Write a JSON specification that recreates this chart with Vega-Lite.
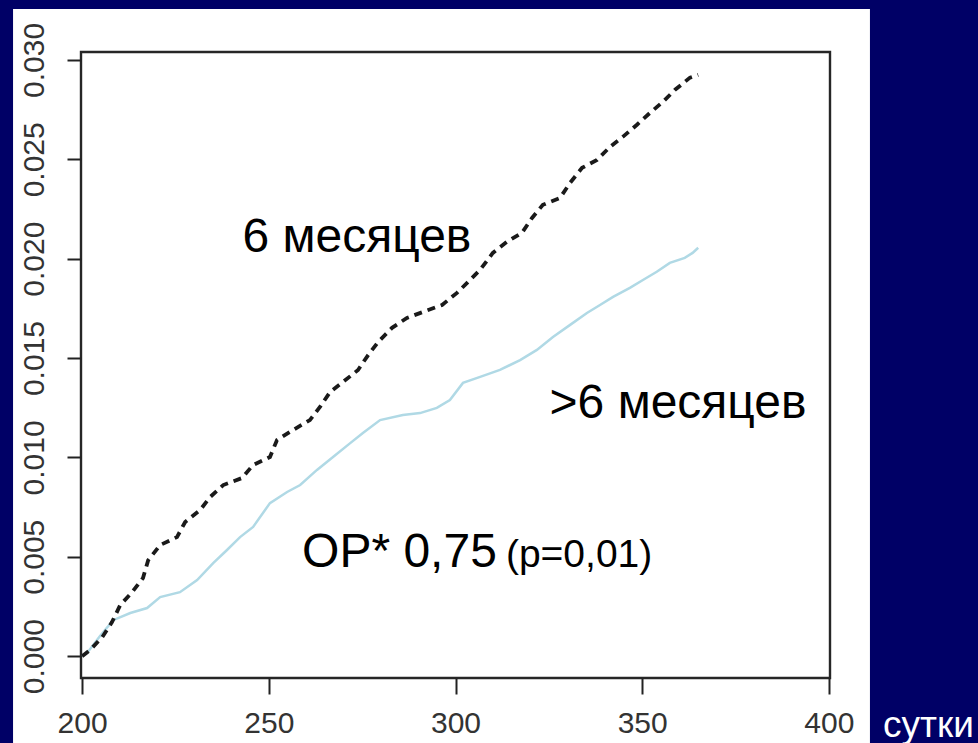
{
  "$schema": "https://vega.github.io/schema/vega-lite/v6.json",
  "width": 749,
  "height": 626,
  "autosize": {"type": "none"},
  "padding": {"left": 81, "top": 52, "right": 148, "bottom": 65},
  "background": "#000066",
  "config": {"view": {"stroke": null}, "font": "Liberation Sans"},
  "datasets": {
    "one": [{}],
    "curves": [
      {"day": 200.0, "risk": 0.0, "group": "6 месяцев"},
      {"day": 202.1, "risk": 0.0003, "group": "6 месяцев"},
      {"day": 205.4, "risk": 0.00096, "group": "6 месяцев"},
      {"day": 208.0, "risk": 0.00171, "group": "6 месяцев"},
      {"day": 210.2, "risk": 0.00257, "group": "6 месяцев"},
      {"day": 213.4, "risk": 0.00322, "group": "6 месяцев"},
      {"day": 216.3, "risk": 0.00393, "group": "6 месяцев"},
      {"day": 217.7, "risk": 0.00483, "group": "6 месяцев"},
      {"day": 220.9, "risk": 0.00559, "group": "6 месяцев"},
      {"day": 225.4, "risk": 0.00599, "group": "6 месяцев"},
      {"day": 227.6, "risk": 0.00675, "group": "6 месяцев"},
      {"day": 231.6, "risk": 0.00735, "group": "6 месяцев"},
      {"day": 234.3, "risk": 0.00801, "group": "6 месяцев"},
      {"day": 237.8, "risk": 0.00861, "group": "6 месяцев"},
      {"day": 242.8, "risk": 0.00896, "group": "6 месяцев"},
      {"day": 245.8, "risk": 0.00962, "group": "6 месяцев"},
      {"day": 250.3, "risk": 0.01002, "group": "6 месяцев"},
      {"day": 252.2, "risk": 0.01088, "group": "6 месяцев"},
      {"day": 256.5, "risk": 0.01138, "group": "6 месяцев"},
      {"day": 261.0, "risk": 0.01188, "group": "6 месяцев"},
      {"day": 263.7, "risk": 0.01254, "group": "6 месяцев"},
      {"day": 266.4, "risk": 0.01329, "group": "6 месяцев"},
      {"day": 269.9, "risk": 0.0138, "group": "6 месяцев"},
      {"day": 273.9, "risk": 0.0144, "group": "6 месяцев"},
      {"day": 276.6, "risk": 0.01515, "group": "6 месяцев"},
      {"day": 279.3, "risk": 0.01581, "group": "6 месяцев"},
      {"day": 283.0, "risk": 0.01652, "group": "6 месяцев"},
      {"day": 287.0, "risk": 0.01702, "group": "6 месяцев"},
      {"day": 291.3, "risk": 0.01732, "group": "6 месяцев"},
      {"day": 296.4, "risk": 0.01767, "group": "6 месяцев"},
      {"day": 300.4, "risk": 0.01828, "group": "6 месяцев"},
      {"day": 303.9, "risk": 0.01893, "group": "6 месяцев"},
      {"day": 306.6, "risk": 0.01944, "group": "6 месяцев"},
      {"day": 310.0, "risk": 0.02029, "group": "6 месяцев"},
      {"day": 313.8, "risk": 0.02085, "group": "6 месяцев"},
      {"day": 317.8, "risk": 0.0213, "group": "6 месяцев"},
      {"day": 320.5, "risk": 0.02205, "group": "6 месяцев"},
      {"day": 323.4, "risk": 0.02271, "group": "6 месяцев"},
      {"day": 328.0, "risk": 0.02306, "group": "6 месяцев"},
      {"day": 330.7, "risk": 0.02382, "group": "6 месяцев"},
      {"day": 333.9, "risk": 0.02457, "group": "6 месяцев"},
      {"day": 337.9, "risk": 0.02497, "group": "6 месяцев"},
      {"day": 341.4, "risk": 0.02563, "group": "6 месяцев"},
      {"day": 344.8, "risk": 0.02613, "group": "6 месяцев"},
      {"day": 348.6, "risk": 0.02674, "group": "6 месяцев"},
      {"day": 352.1, "risk": 0.02734, "group": "6 месяцев"},
      {"day": 355.6, "risk": 0.0279, "group": "6 месяцев"},
      {"day": 358.8, "risk": 0.0285, "group": "6 месяцев"},
      {"day": 362.8, "risk": 0.02911, "group": "6 месяцев"},
      {"day": 365.0, "risk": 0.02925, "group": "6 месяцев"},
      {"day": 200.0, "risk": 0.0, "group": ">6 месяцев"},
      {"day": 201.3, "risk": 0.00015, "group": ">6 месяцев"},
      {"day": 204.8, "risk": 0.00101, "group": ">6 месяцев"},
      {"day": 208.3, "risk": 0.00181, "group": ">6 месяцев"},
      {"day": 212.9, "risk": 0.00217, "group": ">6 месяцев"},
      {"day": 217.4, "risk": 0.00242, "group": ">6 месяцев"},
      {"day": 220.9, "risk": 0.00297, "group": ">6 месяцев"},
      {"day": 226.2, "risk": 0.00322, "group": ">6 месяцев"},
      {"day": 230.8, "risk": 0.00383, "group": ">6 месяцев"},
      {"day": 235.1, "risk": 0.00468, "group": ">6 месяцев"},
      {"day": 238.8, "risk": 0.00534, "group": ">6 месяцев"},
      {"day": 242.3, "risk": 0.00599, "group": ">6 месяцев"},
      {"day": 245.8, "risk": 0.0065, "group": ">6 месяцев"},
      {"day": 250.3, "risk": 0.0077, "group": ">6 месяцев"},
      {"day": 254.9, "risk": 0.00826, "group": ">6 месяцев"},
      {"day": 258.4, "risk": 0.00861, "group": ">6 месяцев"},
      {"day": 262.9, "risk": 0.00937, "group": ">6 месяцев"},
      {"day": 267.2, "risk": 0.01002, "group": ">6 месяцев"},
      {"day": 271.8, "risk": 0.01072, "group": ">6 месяцев"},
      {"day": 275.2, "risk": 0.01123, "group": ">6 месяцев"},
      {"day": 279.8, "risk": 0.01188, "group": ">6 месяцев"},
      {"day": 285.9, "risk": 0.01213, "group": ">6 месяцев"},
      {"day": 290.5, "risk": 0.01223, "group": ">6 месяцев"},
      {"day": 295.0, "risk": 0.01249, "group": ">6 месяцев"},
      {"day": 298.5, "risk": 0.01289, "group": ">6 месяцев"},
      {"day": 302.0, "risk": 0.01375, "group": ">6 месяцев"},
      {"day": 306.6, "risk": 0.01405, "group": ">6 месяцев"},
      {"day": 311.9, "risk": 0.0144, "group": ">6 месяцев"},
      {"day": 317.3, "risk": 0.0149, "group": ">6 месяцев"},
      {"day": 321.8, "risk": 0.01541, "group": ">6 месяцев"},
      {"day": 326.1, "risk": 0.01606, "group": ">6 месяцев"},
      {"day": 330.7, "risk": 0.01667, "group": ">6 месяцев"},
      {"day": 335.2, "risk": 0.01727, "group": ">6 месяцев"},
      {"day": 338.7, "risk": 0.01767, "group": ">6 месяцев"},
      {"day": 342.2, "risk": 0.01808, "group": ">6 месяцев"},
      {"day": 346.7, "risk": 0.01853, "group": ">6 месяцев"},
      {"day": 350.2, "risk": 0.01893, "group": ">6 месяцев"},
      {"day": 353.9, "risk": 0.01934, "group": ">6 месяцев"},
      {"day": 357.4, "risk": 0.01979, "group": ">6 месяцев"},
      {"day": 361.4, "risk": 0.02004, "group": ">6 месяцев"},
      {"day": 363.5, "risk": 0.02029, "group": ">6 месяцев"},
      {"day": 365.0, "risk": 0.02055, "group": ">6 месяцев"}
    ]
  },
  "encoding": {
    "x": {
      "type": "quantitative",
      "scale": {"domain": [199.7, 400.3], "nice": false, "zero": false},
      "axis": {
        "values": [200, 250, 300, 350, 400],
        "format": "d",
        "domain": false,
        "grid": false,
        "zindex": 1,
        "tickSize": 16,
        "tickWidth": 2,
        "tickColor": "#222222",
        "labelFontSize": 30,
        "labelColor": "#333333",
        "labelPadding": 14,
        "labelFont": "Liberation Sans",
        "labelOverlap": false,
        "labelFlush": false,
        "title": "сутки",
        "titleColor": "#ffffff",
        "titleFont": "Liberation Sans",
        "titleFontWeight": "normal",
        "titleFontSize": 37,
        "titleAlign": "center",
        "titleBaseline": "alphabetic",
        "titleX": 847,
        "titleY": 58
      }
    },
    "y": {
      "type": "quantitative",
      "scale": {"domain": [-0.0011, 0.0304], "nice": false, "zero": false},
      "axis": {
        "values": [0, 0.005, 0.01, 0.015, 0.02, 0.025, 0.03],
        "format": ".3f",
        "domain": false,
        "grid": false,
        "zindex": 1,
        "tickSize": 14,
        "tickWidth": 2,
        "tickColor": "#222222",
        "labelAngle": -90,
        "labelAlign": "center",
        "labelBaseline": "alphabetic",
        "labelFontSize": 30,
        "labelColor": "#333333",
        "labelPadding": 24,
        "labelFont": "Liberation Sans",
        "labelOverlap": false,
        "labelFlush": false,
        "title": null
      }
    }
  },
  "layer": [
    {
      "data": {"name": "one"},
      "mark": {"type": "rect", "fill": "#ffffff", "strokeWidth": 0},
      "encoding": {
        "x": {"datum": 181.5},
        "x2": {"datum": 411.0},
        "y": {"datum": 0.03257},
        "y2": {"datum": -0.0044}
      }
    },
    {
      "data": {"name": "one"},
      "mark": {"type": "rect", "fillOpacity": 0, "stroke": "#262626", "strokeWidth": 2.4},
      "encoding": {
        "x": {"datum": 199.7},
        "x2": {"datum": 400.3},
        "y": {"datum": -0.0011},
        "y2": {"datum": 0.0304}
      }
    },
    {
      "data": {"name": "curves"},
      "transform": [{"filter": "datum.group === '>6 месяцев'"}],
      "mark": {"type": "line", "color": "#b0d9e5", "strokeWidth": 2.5},
      "encoding": {
        "x": {"field": "day", "type": "quantitative"},
        "y": {"field": "risk", "type": "quantitative"}
      }
    },
    {
      "data": {"name": "curves"},
      "transform": [{"filter": "datum.group === '6 месяцев'"}],
      "mark": {"type": "line", "color": "#1a1a1a", "strokeWidth": 3.8, "strokeDash": [8, 6]},
      "encoding": {
        "x": {"field": "day", "type": "quantitative"},
        "y": {"field": "risk", "type": "quantitative"}
      }
    },
    {
      "data": {"name": "one"},
      "mark": {"type": "text", "text": "6 месяцев", "fontSize": 48, "font": "Liberation Sans", "color": "#000000", "align": "center", "baseline": "alphabetic"},
      "encoding": {"x": {"datum": 273.6}, "y": {"datum": 0.02034}}
    },
    {
      "data": {"name": "one"},
      "mark": {"type": "text", "text": ">6 месяцев", "fontSize": 48, "font": "Liberation Sans", "color": "#000000", "align": "center", "baseline": "alphabetic"},
      "encoding": {"x": {"datum": 359.6}, "y": {"datum": 0.01198}}
    },
    {
      "data": {"name": "one"},
      "mark": {"type": "text", "text": "ОР* 0,75", "fontSize": 48, "font": "Liberation Sans", "color": "#000000", "align": "left", "baseline": "alphabetic"},
      "encoding": {"x": {"datum": 258.9}, "y": {"datum": 0.00448}}
    },
    {
      "data": {"name": "one"},
      "mark": {"type": "text", "text": "(p=0,01)", "fontSize": 39, "font": "Liberation Sans", "color": "#000000", "align": "left", "baseline": "alphabetic"},
      "encoding": {"x": {"datum": 313.5}, "y": {"datum": 0.00448}}
    }
  ]
}
